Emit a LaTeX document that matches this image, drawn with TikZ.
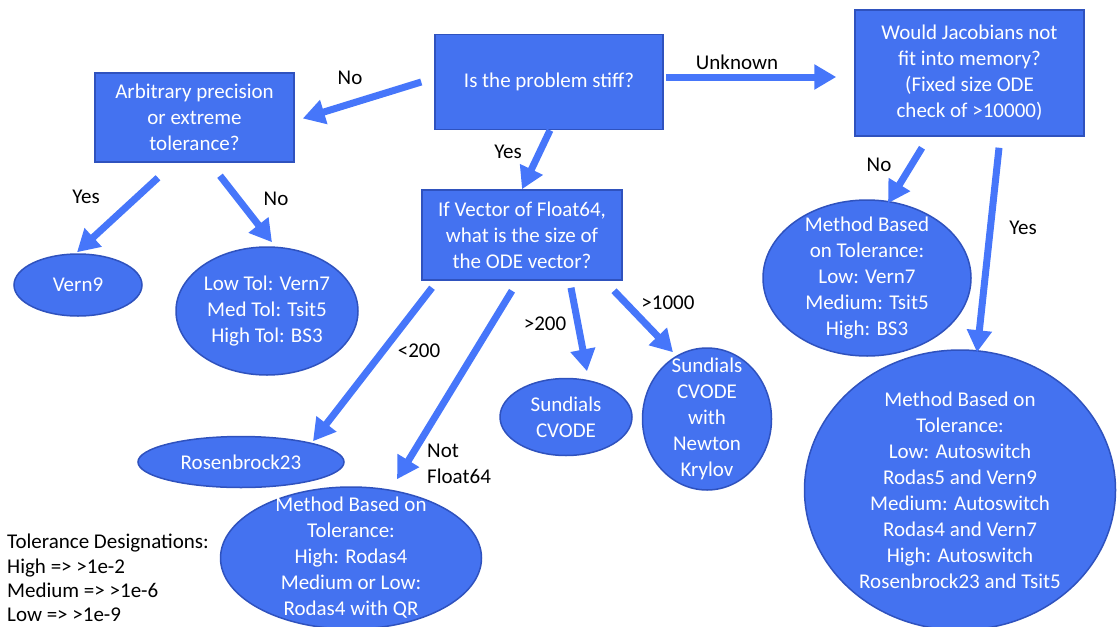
\documentclass[tikz,border=0pt]{standalone}
\usepackage{fontspec}
\setmainfont{Carlito}
\usetikzlibrary{shapes.geometric,arrows.meta}
\definecolor{boxblue}{RGB}{68,114,240}
\definecolor{edgeblue}{RGB}{47,82,190}
\definecolor{arrblue}{RGB}{70,118,250}
\begin{document}
\begin{tikzpicture}[x=1pt,y=-1pt,
    every node/.style={font=\fontsize{21}{26}\selectfont},
    box/.style={draw=edgeblue,line width=1.5pt,fill=boxblue,text=white,align=center,inner sep=0pt},
    oval/.style={ellipse,draw=edgeblue,line width=1.5pt,fill=boxblue,inner sep=0pt},
    wtxt/.style={text=white,align=center,inner sep=0pt},
    arr/.style={draw=arrblue,line width=7pt,-{Triangle[length=22pt,width=24pt]}},
    lbl/.style={text=black,inner sep=0pt}]
  \useasboundingbox (0,0) rectangle (1118,626);
  % questions
  \node[box,minimum width=228pt,minimum height=95pt] (stiff) at (549,82) {Is the problem stiff?};
  \node[box,minimum width=199pt,minimum height=89pt] (prec) at (194.5,117.5) {Arbitrary precision\\or extreme\\tolerance?};
  \node[box,minimum width=229pt,minimum height=126pt] (jac) at (969.5,73) {Would Jacobians not\\fit into memory?\\(Fixed size ODE\\check of >10000)};
  \node[box,minimum width=200pt,minimum height=90pt] (vec) at (522,235) {If Vector of Float64,\\what is the size of\\the ODE vector?};
  % answers
  \node[oval,minimum width=128pt,minimum height=62pt,label={[wtxt]center:Vern9}] (vern9) at (78,285) {};
  \node[oval,minimum width=182pt,minimum height=128pt,label={[wtxt]center:{Low Tol: Vern7\\Med Tol: Tsit5\\High Tol: BS3}}] (lowtol) at (267,311) {};
  \node[oval,minimum width=206pt,minimum height=51pt,label={[wtxt]center:Rosenbrock23}] (rosen) at (241,462) {};
  \node[oval,minimum width=132pt,minimum height=77pt,label={[wtxt]center:{Sundials\\CVODE}}] (sund) at (566,417) {};
  \node[oval,minimum width=129pt,minimum height=142pt,label={[wtxt]center:{Sundials\\CVODE\\with\\Newton\\Krylov}}] (sundk) at (707,419) {};
  \node[oval,minimum width=261pt,minimum height=142pt,label={[wtxt]center:{Method Based on\\Tolerance:\\High: Rodas4\\Medium or Low:\\Rodas4 with QR}}] (method) at (351,558) {};
  \node[oval,minimum width=208pt,minimum height=156pt,label={[wtxt]center:{Method Based\\on Tolerance:\\Low: Vern7\\Medium: Tsit5\\High: BS3}}] (tolA) at (867,278) {};
  \node[oval,minimum width=311pt,minimum height=280pt,label={[wtxt]center:{Method Based on\\Tolerance:\\Low: Autoswitch\\Rodas5 and Vern9\\Medium: Autoswitch\\Rodas4 and Vern7\\High: Autoswitch\\Rosenbrock23 and Tsit5}}] (tolB) at (960,490) {};
  % legend
  \node[lbl,align=left,anchor=west,font=\fontsize{21}{24.4}\selectfont] (legend) at (7,578) {Tolerance Designations:\\High => >1e-2\\Medium => >1e-6\\Low => >1e-9};
  % arrows
  \draw[arr] ([shift={(-13,0)}]stiff.west) -- ([shift={(8,1)}]prec.east);
  \draw[arr] ([shift={(2,-5)}]stiff.east) -- ([shift={(-18,4)}]jac.west);
  \draw[arr] ([shift={(1,0)}]stiff.south) -- (vec.north);
  \draw[arr] ([shift={(-36.5,15)}]prec.south) -- ([shift={(-1,-1)}]vern9.north);
  \draw[arr] ([shift={(25.5,13)}]prec.south) -- ([shift={(5,-4)}]lowtol.north);
  \draw[arr] ([shift={(-90,7)}]vec.south) -- ([shift={(72,5.5)}]rosen.north);
  \draw[arr] ([shift={(-10,10)}]vec.south) -- ([shift={(46,-7)}]method.north);
  \draw[arr] ([shift={(49,7)}]vec.south) -- ([shift={(21,-6.5)}]sund.north);
  \draw[arr] ([shift={(92,10)}]vec.south) -- ([shift={(-34,5)}]sundk.north);
  \draw[arr] ([shift={(-47.5,11)}]jac.south) -- ([shift={(21,4)}]tolA.north);
  \draw[arr] ([shift={(29.5,11)}]jac.south) -- ([shift={(17,3)}]tolB.north);
  % arrow labels
  \node[lbl] (no1) at (350,78) {No};
  \node[lbl] (unknown) at (737,62) {Unknown};
  \node[lbl] (yes1) at (508,152) {Yes};
  \node[lbl] (yes2) at (86,197) {Yes};
  \node[lbl] (no2) at (276,199) {No};
  \node[lbl] (lt200) at (419,351) {<200};
  \node[lbl,align=left,anchor=west] (notf) at (427,464) {Not\\Float64};
  \node[lbl] (gt200) at (545,324) {>200};
  \node[lbl] (gt1000) at (668,303) {>1000};
  \node[lbl] (no3) at (879,165) {No};
  \node[lbl] (yes3) at (1023,228) {Yes};
\end{tikzpicture}
\end{document}
